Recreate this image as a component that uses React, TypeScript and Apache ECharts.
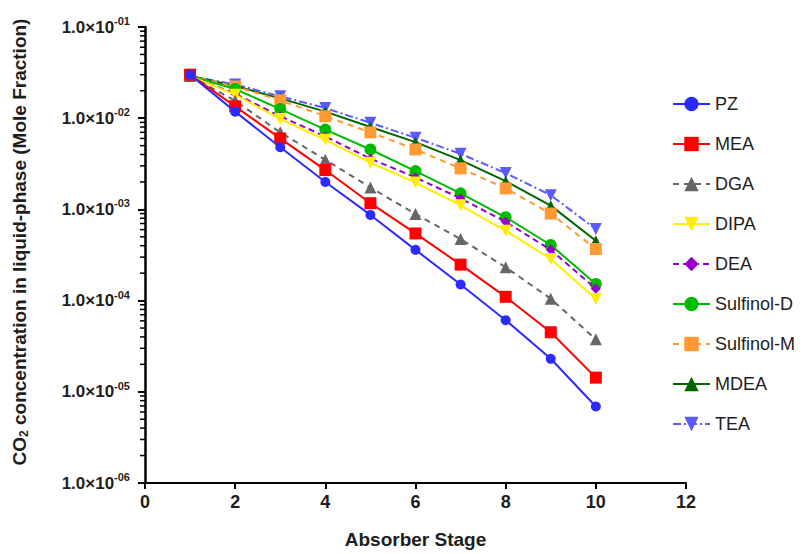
import React, { useEffect, useRef } from "react";
import * as echarts from "echarts";

const stages = [1, 2, 3, 4, 5, 6, 7, 8, 9, 10];
const seriesNames = ["PZ", "MEA", "DGA", "DIPA", "DEA", "Sulfinol-D", "Sulfinol-M", "MDEA", "TEA"];

const PZ = [0.030, 0.0118, 0.0048, 0.0020, 8.7e-4, 3.6e-4, 1.5e-4, 6.1e-5, 2.3e-5, 6.9e-6];
const MEA = [0.030, 0.0135, 0.0060, 0.0027, 1.17e-3, 5.45e-4, 2.48e-4, 1.1e-4, 4.5e-5, 1.43e-5];
const DGA = [0.029, 0.0155, 0.0070, 0.0035, 1.74e-3, 8.9e-4, 4.73e-4, 2.32e-4, 1.05e-4, 3.76e-5];
const DIPA = [0.029, 0.0181, 0.0098, 0.0058, 3.25e-3, 1.97e-3, 1.11e-3, 5.83e-4, 2.86e-4, 1.04e-4];
const DEA = [0.029, 0.0185, 0.0105, 0.0063, 3.6e-3, 2.24e-3, 1.32e-3, 7.3e-4, 3.6e-4, 1.35e-4];
const SulfinolD = [0.029, 0.0209, 0.0126, 0.0075, 4.54e-3, 2.63e-3, 1.5e-3, 8.2e-4, 4.07e-4, 1.52e-4];
const SulfinolM = [0.029, 0.0223, 0.0157, 0.0105, 7.0e-3, 4.54e-3, 2.82e-3, 1.7e-3, 9.0e-4, 3.68e-4];
const MDEA = [0.029, 0.0225, 0.0165, 0.0118, 8.0e-3, 5.46e-3, 3.47e-3, 2.04e-3, 1.1e-3, 4.53e-4];
const TEA = [0.029, 0.0234, 0.0174, 0.0129, 8.9e-3, 6.1e-3, 4.07e-3, 2.5e-3, 1.43e-3, 6.08e-4];

const xTicks = [0, 2, 4, 6, 8, 10, 12];
const decades = [-6, -5, -4, -3, -2, -1];

const DOWN_TRI = "path://M0,0 L10,0 L5,9 Z";

const styles = [
  { color: "#2b2bff", symbol: "circle", size: 10, type: "solid" as any, width: 2 },
  { color: "#ff0000", symbol: "rect", size: 12, type: "solid" as any, width: 2 },
  { color: "#666666", symbol: "triangle", size: 12, type: [6, 5] as any, width: 2 },
  { color: "#ffee00", symbol: DOWN_TRI, size: 12, type: "solid" as any, width: 2 },
  { color: "#9900cc", symbol: "diamond", size: 10, type: [6, 4] as any, width: 2 },
  { color: "#00bb00", symbol: "circle", size: 12, type: "solid" as any, width: 2 },
  { color: "#ff9933", symbol: "rect", size: 12, type: [6, 5] as any, width: 2 },
  { color: "#006600", symbol: "triangle", size: 11, type: "solid" as any, width: 2 },
  { color: "#5a5aff", symbol: DOWN_TRI, size: 12, type: [8, 3, 2, 3] as any, width: 2 },
];

const seriesData = [PZ, MEA, DGA, DIPA, DEA, SulfinolD, SulfinolM, MDEA, TEA];

export default function App() {
  const ref = useRef<HTMLDivElement>(null);
  useEffect(() => {
    if (!ref.current) return;
    const chart = echarts.init(ref.current, undefined, { renderer: "svg" });
    const minorVals: number[][] = [];
    decades.slice(0, -1).forEach((d) => {
      for (let k = 2; k <= 9; k++) minorVals.push([0, k * Math.pow(10, d)]);
    });
    const lineSeries = seriesNames.map((name, i) => ({
      name,
      type: "line",
      data: stages.map((s, j) => [s, seriesData[i][j]]),
      symbol: styles[i].symbol,
      symbolSize: styles[i].size,
      itemStyle: { color: styles[i].color },
      lineStyle: { color: styles[i].color, width: styles[i].width, type: styles[i].type },
      z: 20 - i,
    }));
    const font = "'Liberation Sans', Arial, sans-serif";
    const txt = "#1e1e1e";
    chart.setOption({
      animation: false,
      grid: { left: 145, right: 123, top: 27, bottom: 69 },
      legend: {
        orient: "vertical",
        left: 667,
        top: 90,
        itemWidth: 37,
        itemHeight: 18,
        itemGap: 22,
        data: seriesNames,
        textStyle: { fontFamily: font, fontSize: 18, color: txt },
      },
      xAxis: {
        type: "value",
        min: 0,
        max: 12,
        interval: 2,
        name: "Absorber Stage",
        nameLocation: "middle",
        nameGap: 47,
        nameTextStyle: { fontFamily: font, fontWeight: "bold", fontSize: 19, color: txt },
        axisLine: { show: true, onZero: false, lineStyle: { color: "#000", width: 2 } },
        axisTick: { show: true, length: 6, lineStyle: { color: "#000", width: 2 } },
        axisLabel: {
          fontFamily: font,
          fontWeight: "bold",
          fontSize: 18,
          color: txt,
          margin: 10,
          formatter: (v: number) => (xTicks.includes(v) ? String(v) : ""),
        },
        splitLine: { show: false },
      },
      yAxis: {
        type: "log",
        logBase: 10,
        min: 1e-6,
        max: 1e-1,
        name: "CO{sub|2} concentration in liquid-phase (Mole Fraction)",
        nameLocation: "middle",
        nameGap: 115,
        nameTextStyle: {
          fontFamily: font,
          fontWeight: "bold",
          fontSize: 19,
          color: txt,
          padding: [0, 0, 0, 26],
          rich: {
            sub: { fontFamily: font, fontWeight: "bold", fontSize: 12, color: txt, padding: [10, 0, 0, 0] },
          },
        },
        axisLine: { show: true, onZero: false, lineStyle: { color: "#000", width: 2.5 } },
        axisTick: { show: true, length: 7, lineStyle: { color: "#000", width: 2 } },
        axisLabel: {
          fontFamily: font,
          fontWeight: "bold",
          fontSize: 17,
          color: txt,
          margin: 15,
          formatter: (v: number) => {
            const e = Math.round(Math.log10(v));
            const s = "-0" + String(-e);
            return "{b|1.0×10}{s|" + s + "}";
          },
          rich: {
            b: { fontFamily: font, fontWeight: "bold", fontSize: 17, color: txt },
            s: { fontFamily: font, fontWeight: "bold", fontSize: 11, color: txt, padding: [0, 0, 12, 0] },
          },
        },
        splitLine: { show: false },
        minorTick: { show: false },
      },
      series: [
        ...lineSeries,
        {
          type: "custom",
          name: "minorTicks",
          data: minorVals,
          silent: true,
          clip: false,
          z: 1,
          renderItem: (params: any, api: any) => {
            const p = api.coord([api.value(0), api.value(1)]);
            return {
              type: "line",
              shape: { x1: p[0] - 5, y1: p[1], x2: p[0], y2: p[1] },
              style: { stroke: "#000", lineWidth: 1.5 },
            };
          },
        },
      ],
    });
    return () => chart.dispose();
  }, []);
  return <div ref={ref} style={{ width: 809, height: 554, position: "absolute", left: 0, top: 0, background: "#fff" }} />;
}
